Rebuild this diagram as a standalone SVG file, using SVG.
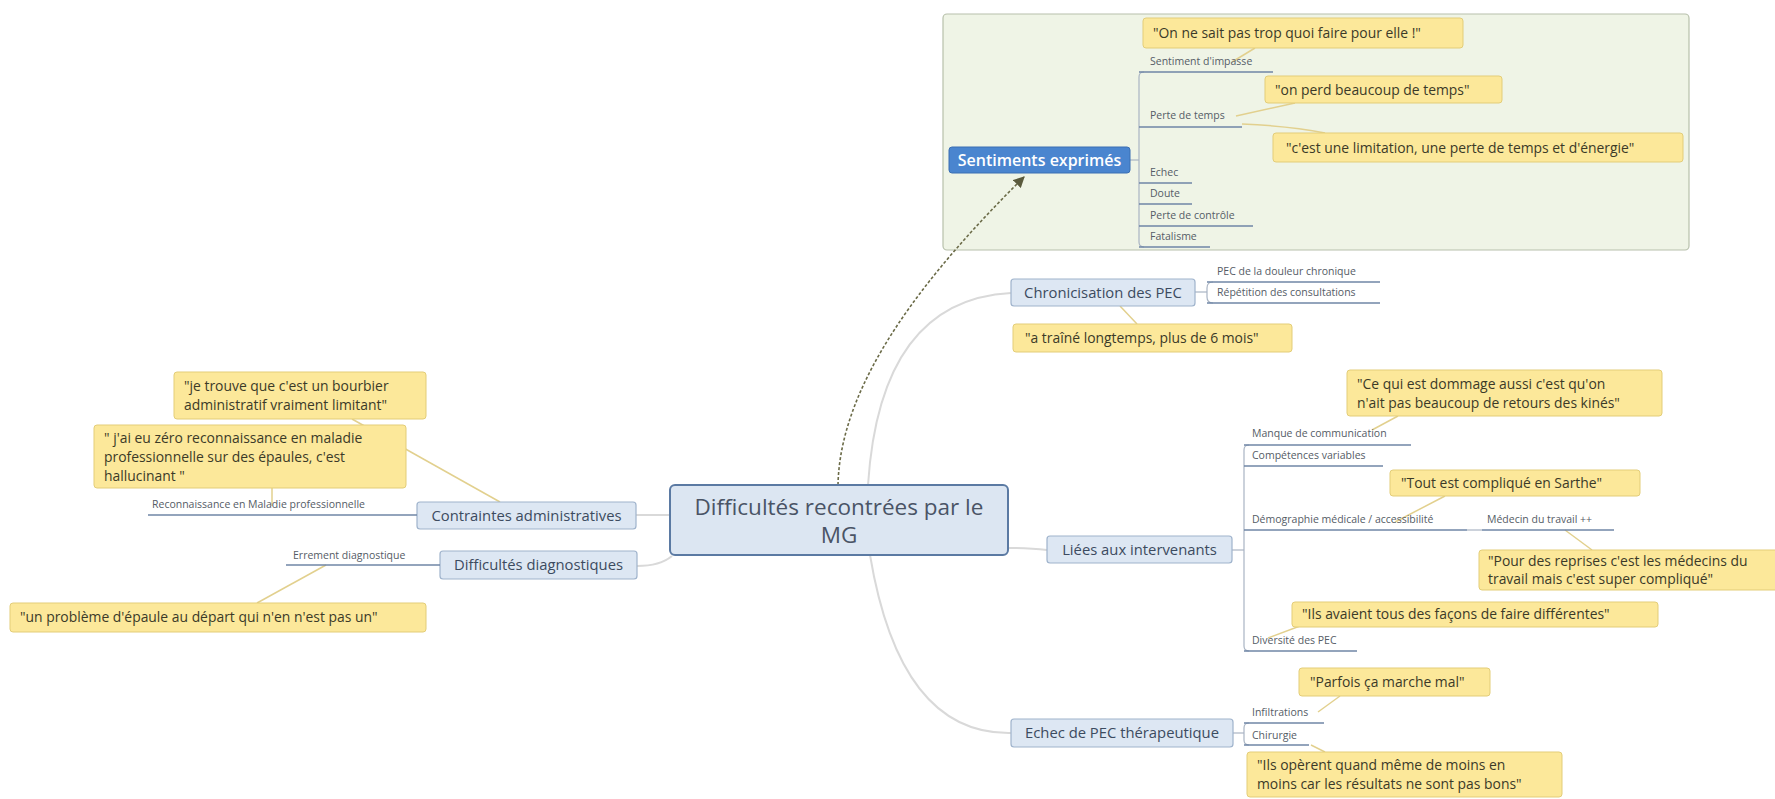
<svg xmlns="http://www.w3.org/2000/svg" width="1775" height="799" viewBox="0 0 1775 799">
<defs>
<style>
text{font-family:"Open Sans","Liberation Sans",sans-serif}
.callout{fill:#fce89a;stroke:#e3cd78;stroke-width:1}
.ct{font-size:13.9px;fill:#3b3a28}
.topic{fill:#dde7f3;stroke:#9fb3cc;stroke-width:1.2}
.tt{font-size:14.8px;fill:#3c4b60;text-anchor:middle}
.sub{font-size:10.5px;fill:#555c66}
.ul{stroke:#6f86a6;stroke-width:1.5;fill:none}
.br{stroke:#a9b4c3;stroke-width:1.2;fill:none}
.cl{stroke:#e2d08e;stroke-width:1.5;fill:none}
.gl{stroke:#d9d9d9;stroke-width:2;fill:none}
</style>
<marker id="arr" viewBox="0 0 10 10" refX="9" refY="5" markerWidth="7" markerHeight="7" orient="auto">
<path d="M0,0 L10,5 L0,10 z" fill="#5a5a3c"/>
</marker>
</defs>
<rect width="1775" height="799" fill="#ffffff"/>

<g id="boundary">
<rect x="943" y="14" width="746" height="236" rx="4" fill="#eff4e6" stroke="#b7c0ab" stroke-width="1.2"/>
</g>

<g id="connectors">
<path class="gl" d="M670,515 H636"/>
<path class="gl" d="M672,556 Q660,566 637,566"/>
<path class="gl" d="M1008,548 Q1030,548 1047,550"/>
<path class="gl" d="M868,485 Q880,300 1011,293"/>
<path class="gl" d="M870,555 Q900,735 1011,733"/>
<path d="M838,485 C840,380 930,270 1024,177" fill="none" stroke="#6b6b48" stroke-width="1.6" stroke-dasharray="3,2" marker-end="url(#arr)"/>
<path class="br" d="M1130,160 H1139"/>
<path class="br" d="M1195,292 H1207"/>
<path class="br" d="M1232,550 H1244"/>
<path class="br" d="M1233,733 H1244"/>
<path class="cl" d="M352,419 L500,502"/>
<path class="cl" d="M272,488 L272,506"/>
<path class="cl" d="M326,565 L257,603"/>
<path class="cl" d="M1232,62 L1255,48"/>
<path class="cl" d="M1236,116 L1295,103"/>
<path class="cl" d="M1242,124 Q1290,126 1325,133"/>
<path class="cl" d="M1120,306 L1137,324"/>
<path class="cl" d="M1372,430 L1398,416"/>
<path class="cl" d="M1395,522 L1445,496"/>
<path class="cl" d="M1565,530 L1592,550"/>
<path class="cl" d="M1268,638 L1300,626"/>
<path class="cl" d="M1318,712 L1340,696"/>
<path class="cl" d="M1311,745 L1325,752"/>
<path class="br" d="M1467,530 H1482"/>
</g>

<g id="root">
<rect x="670" y="485" width="338" height="70" rx="5" fill="#dce6f2" stroke="#5b7aa3" stroke-width="2"/>
<text x="839" y="515" text-anchor="middle" font-size="22.5" fill="#4a5466">Difficultés recontrées par le</text>
<text x="839" y="543" text-anchor="middle" font-size="22.5" fill="#4a5466">MG</text>
</g>

<g id="sentiments">
<rect x="949" y="147" width="181" height="26" rx="3" fill="#4a85cf" stroke="#3b6fb3" stroke-width="1"/>
<text x="1039.5" y="165.5" text-anchor="middle" font-size="16" font-weight="600" fill="#ffffff">Sentiments exprimés</text>
<path class="br" d="M1144,72 Q1139,72 1139,77 V242 Q1139,247 1144,247"/>
<g id="s-impasse"><text class="sub" x="1150" y="65">Sentiment d'impasse</text><path class="ul" d="M1139,72 H1273"/></g>
<g id="s-perte"><text class="sub" x="1150" y="119">Perte de temps</text><path class="ul" d="M1139,127 H1242"/></g>
<g id="s-echec"><text class="sub" x="1150" y="176">Echec</text><path class="ul" d="M1139,183 H1192"/></g>
<g id="s-doute"><text class="sub" x="1150" y="197">Doute</text><path class="ul" d="M1139,204 H1192"/></g>
<g id="s-controle"><text class="sub" x="1150" y="219">Perte de contrôle</text><path class="ul" d="M1139,226 H1253"/></g>
<g id="s-fatal"><text class="sub" x="1150" y="240">Fatalisme</text><path class="ul" d="M1139,247 H1210"/></g>
<g id="c-sait"><rect class="callout" x="1143" y="18" width="320" height="30" rx="3"/><text class="ct" x="1153" y="38">"On ne sait pas trop quoi faire pour elle !"</text></g>
<g id="c-perd"><rect class="callout" x="1265" y="76" width="237" height="27" rx="3"/><text class="ct" x="1275" y="95">"on perd beaucoup de temps"</text></g>
<g id="c-limit"><rect class="callout" x="1273" y="133" width="410" height="29" rx="3"/><text class="ct" x="1286" y="153">"c'est une limitation, une perte de temps et d'énergie"</text></g>
</g>

<g id="chronicisation">
<rect class="topic" x="1011" y="279" width="184" height="27" rx="3"/>
<text class="tt" x="1103" y="298">Chronicisation des PEC</text>
<path class="br" d="M1213,282 Q1207,282 1207,288 V297 Q1207,303 1213,303"/>
<g id="ch-douleur"><text class="sub" x="1217" y="275">PEC de la douleur chronique</text><path class="ul" d="M1207,282 H1380"/></g>
<g id="ch-repet"><text class="sub" x="1217" y="296">Répétition des consultations</text><path class="ul" d="M1207,303 H1380"/></g>
<g id="c-traine"><rect class="callout" x="1013" y="324" width="279" height="28" rx="3"/><text class="ct" x="1025" y="343">"a traîné longtemps, plus de 6 mois"</text></g>
</g>

<g id="liees">
<rect class="topic" x="1047" y="536" width="185" height="27" rx="3"/>
<text class="tt" x="1139.5" y="555">Liées aux intervenants</text>
<path class="br" d="M1249,445 Q1244,445 1244,450 V646 Q1244,651 1249,651"/>
<g id="l-manque"><text class="sub" x="1252" y="437">Manque de communication</text><path class="ul" d="M1244,445 H1411"/></g>
<g id="l-compet"><text class="sub" x="1252" y="459">Compétences variables</text><path class="ul" d="M1244,466 H1383"/></g>
<g id="l-demo"><text class="sub" x="1252" y="523">Démographie médicale / accessibilité</text><path class="ul" d="M1244,530 H1467"/></g>
<g id="l-medecin"><text class="sub" x="1487" y="523">Médecin du travail ++</text><path class="ul" d="M1482,530 H1614"/></g>
<g id="l-divers"><text class="sub" x="1252" y="644">Diversité des PEC</text><path class="ul" d="M1244,651 H1357"/></g>
<g id="c-dommage"><rect class="callout" x="1347" y="370" width="315" height="46" rx="3"/><text class="ct" x="1357" y="389">"Ce qui est dommage aussi c'est qu'on</text><text class="ct" x="1357" y="408">n'ait pas beaucoup de retours des kinés"</text></g>
<g id="c-sarthe"><rect class="callout" x="1390" y="470" width="250" height="26" rx="3"/><text class="ct" x="1401" y="488">"Tout est compliqué en Sarthe"</text></g>
<g id="c-reprises"><rect class="callout" x="1479" y="550" width="320" height="40" rx="3"/><text class="ct" x="1488" y="566">"Pour des reprises c'est les médecins du</text><text class="ct" x="1488" y="584">travail mais c'est super compliqué"</text></g>
<g id="c-facons"><rect class="callout" x="1292" y="602" width="366" height="25" rx="3"/><text class="ct" x="1302" y="619">"Ils avaient tous des façons de faire différentes"</text></g>
</g>

<g id="echec">
<rect class="topic" x="1011" y="719" width="222" height="28" rx="3"/>
<text class="tt" x="1122" y="738">Echec de PEC thérapeutique</text>
<path class="br" d="M1249,723 Q1244,723 1244,728 V740 Q1244,745 1249,745"/>
<g id="e-infil"><text class="sub" x="1252" y="716">Infiltrations</text><path class="ul" d="M1244,723 H1324"/></g>
<g id="e-chir"><text class="sub" x="1252" y="739">Chirurgie</text><path class="ul" d="M1244,745 H1309"/></g>
<g id="c-parfois"><rect class="callout" x="1299" y="668" width="191" height="28" rx="3"/><text class="ct" x="1310" y="687">"Parfois ça marche mal"</text></g>
<g id="c-operent"><rect class="callout" x="1247" y="752" width="315" height="45" rx="3"/><text class="ct" x="1257" y="770">"Ils opèrent quand même de moins en</text><text class="ct" x="1257" y="789">moins car les résultats ne sont pas bons"</text></g>
</g>

<g id="contraintes">
<g id="c-bourbier"><rect class="callout" x="174" y="372" width="252" height="47" rx="3"/><text class="ct" x="184" y="391">"je trouve que c'est un bourbier</text><text class="ct" x="184" y="410">administratif vraiment limitant"</text></g>
<g id="c-zero"><rect class="callout" x="94" y="425" width="312" height="63" rx="3"/><text class="ct" x="104" y="443">" j'ai eu zéro reconnaissance en maladie</text><text class="ct" x="104" y="462">professionnelle sur des épaules, c'est</text><text class="ct" x="104" y="481">hallucinant "</text></g>
<rect class="topic" x="417" y="502" width="219" height="27" rx="3"/>
<text class="tt" x="526.5" y="521">Contraintes administratives</text>
<g id="k-reco"><text class="sub" x="152" y="508">Reconnaissance en Maladie professionnelle</text><path class="ul" d="M148,515 H417"/></g>
</g>

<g id="diagnostiques">
<rect class="topic" x="440" y="551" width="197" height="28" rx="3"/>
<text class="tt" x="538.5" y="570">Difficultés diagnostiques</text>
<g id="d-errement"><text class="sub" x="293" y="559">Errement diagnostique</text><path class="ul" d="M286,565 H440"/></g>
<g id="c-probleme"><rect class="callout" x="10" y="603" width="416" height="29" rx="3"/><text class="ct" x="20" y="622">"un problème d'épaule au départ qui n'en n'est pas un"</text></g>
</g>
</svg>
